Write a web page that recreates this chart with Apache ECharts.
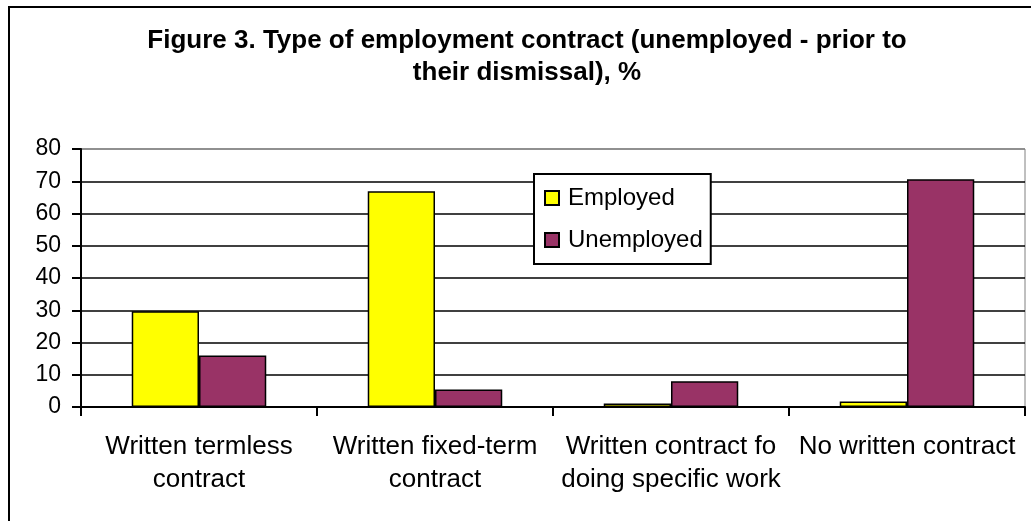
<!DOCTYPE html>
<html>
<head>
<meta charset="utf-8">
<script src="https://cdn.jsdelivr.net/npm/echarts@6/dist/echarts.min.js"></script>
<style>
  html, body { margin: 0; padding: 0; background: #fff; }
  #chart { width: 1031px; height: 521px; }
</style>
</head>
<body>
<div id="chart"></div>
<script>
// Contract types and shares (%) for each group
const categories = [
  'Written termless\ncontract',
  'Written fixed-term\ncontract',
  'Written contract fo\ndoing specific work',
  'No written contract'
];
const employed = [29.7, 66.9, 1.1, 1.7];
const unemployed = [16.0, 5.4, 8.0, 70.6];
const yTicks = { min: 0, max: 80, interval: 10 };

const fontFamily = '"Liberation Sans", Arial, sans-serif';
const chart = echarts.init(document.getElementById('chart'), null, { renderer: 'canvas' });

// grid lines: black, except the top one which is part of the grey plot frame
const splitColors = [];
for (let v = yTicks.min; v <= yTicks.max; v += yTicks.interval) {
  splitColors.push(v === yTicks.max ? '#808080' : '#000000');
}

chart.setOption({
  backgroundColor: '#ffffff',
  animation: false,
  title: {
    text: 'Figure 3. Type of employment contract (unemployed - prior to\ntheir dismissal), %',
    left: 527,
    top: 25,
    padding: 0,
    textAlign: 'center',
    textStyle: {
      fontFamily: fontFamily,
      fontSize: 26,
      fontWeight: 'bold',
      color: '#000',
      lineHeight: 32
    }
  },
  graphic: [{
    type: 'rect',
    shape: { x: 9, y: 7, width: 1100, height: 600 },
    style: { fill: 'none', stroke: '#000', lineWidth: 2 },
    silent: true,
    z: 100
  }],
  legend: {
    data: ['Employed', 'Unemployed'],
    orient: 'vertical',
    left: 534,
    top: 174,
    padding: [12, 8, 12, 10],
    itemGap: 18,
    itemWidth: 14,
    itemHeight: 14,
    icon: 'rect',
    backgroundColor: '#fff',
    borderColor: '#000',
    borderWidth: 2,
    textStyle: {
      fontFamily: fontFamily,
      fontSize: 24,
      color: '#000',
      lineHeight: 24,
      padding: [0, 0, 0, 4]
    }
  },
  grid: {
    left: 81,
    right: 6,
    top: 149,
    bottom: 114,
    show: true,
    borderColor: '#808080',
    borderWidth: 1,
    backgroundColor: 'transparent'
  },
  xAxis: {
    type: 'category',
    data: categories,
    axisLine: { lineStyle: { color: '#000', width: 2 } },
    axisTick: { show: true, length: 9, lineStyle: { color: '#000', width: 2 } },
    axisLabel: {
      fontFamily: fontFamily,
      fontSize: 26,
      color: '#000',
      lineHeight: 33,
      margin: 23,
      interval: 0
    }
  },
  yAxis: {
    type: 'value',
    min: yTicks.min,
    max: yTicks.max,
    interval: yTicks.interval,
    axisLine: { show: true, lineStyle: { color: '#000', width: 2 } },
    axisTick: { show: true, length: 9, lineStyle: { color: '#000', width: 2 } },
    axisLabel: {
      fontFamily: fontFamily,
      fontSize: 23,
      color: '#000',
      margin: 20
    },
    splitLine: { show: true, lineStyle: { color: splitColors, width: 1.5 } }
  },
  series: [
    {
      name: 'Employed',
      type: 'bar',
      data: employed,
      barGap: '0%',
      barCategoryGap: '43%',
      itemStyle: { color: '#FFFF00', borderColor: '#000', borderWidth: 1.5 }
    },
    {
      name: 'Unemployed',
      type: 'bar',
      data: unemployed,
      barGap: '0%',
      barCategoryGap: '43%',
      itemStyle: { color: '#993366', borderColor: '#000', borderWidth: 1.5 }
    }
  ]
});
</script>
</body>
</html>
